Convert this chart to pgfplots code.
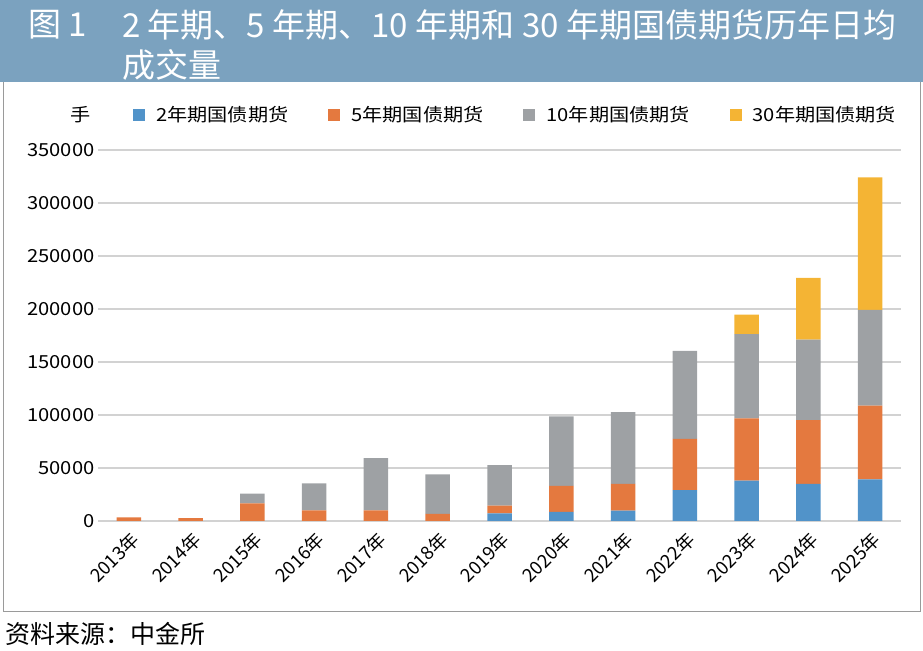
\documentclass[border=0pt]{standalone}
\usepackage{fontspec}
\setmainfont{Noto Sans CJK SC}[FakeStretch=1.12]
\newfontfamily\titlefont{Noto Sans CJK SC}
\usepackage{pgfplots}
\usepackage{pgfplotstable}
\pgfplotsset{compat=1.18}
\definecolor{cblue}{HTML}{5193C9}
\definecolor{corange}{HTML}{E4793F}
\definecolor{cgrey}{HTML}{9EA1A4}
\definecolor{cyellow}{HTML}{F4B434}
\definecolor{band}{HTML}{7BA2BF}
\definecolor{gridc}{HTML}{D2D2D2}
\definecolor{framec}{HTML}{9A9A9A}
\pgfplotstableread{
x a b c d
0 0 3500 0 0
1 0 2700 0 0
2 0 16700 9100 0
3 0 10000 25500 0
4 0 10000 49400 0
5 0 6600 37400 0
6 7300 7200 38300 0
7 8500 24700 65500 0
8 9800 25300 67700 0
9 29100 48400 83100 0
10 38000 58800 79400 18500
11 35100 60100 75900 58300
12 39200 69600 90400 125000
}\datatable
\newcommand{\lbl}{\fontsize{18bp}{20bp}\selectfont}
\newcommand{\xlbl}{\titlefont\fontsize{18.5bp}{20bp}\selectfont}
\begin{document}
\begin{tikzpicture}[x=1bp,y=1bp]
\useasboundingbox (0,0) rectangle (923,651);
\fill[band] (0,569) rectangle (923,651);
\draw[framec, line width=1bp] (3,569) -- (3,39) -- (920,39) -- (920,569);
\node[anchor=west, inner sep=0pt, text=white] at (28,626) {\titlefont\fontsize{33bp}{36bp}\selectfont 图 1};
\node[anchor=west, inner sep=0pt, text=white] at (122,626) {\titlefont\fontsize{33bp}{36bp}\selectfont 2 年期、5 年期、10 年期和 30 年期国债期货历年日均};
\node[anchor=west, inner sep=0pt, text=white] at (122,586) {\titlefont\fontsize{33bp}{36bp}\selectfont 成交量};
\node[anchor=west, inner sep=0pt] at (5,17) {\titlefont\fontsize{25bp}{28bp}\selectfont 资料来源：中金所};
\node[anchor=center, inner sep=0pt] at (81,536) {\lbl 手};
\begin{axis}[
  at={(98bp,130bp)}, anchor=south west,
  scale only axis, width=803bp, height=371bp,
  ybar stacked, bar width=24.5bp,
  xmin=-0.5, xmax=12.5, ymin=0, ymax=350000,
  xtick={0,...,12},
  xticklabels={2013年,2014年,2015年,2016年,2017年,2018年,2019年,2020年,2021年,2022年,2023年,2024年,2025年},
  ytick={0,50000,100000,150000,200000,250000,300000,350000},
  scaled y ticks=false,
  /pgf/number format/assume math mode=true,
  /pgf/number format/fixed,
  /pgf/number format/1000 sep={},
  yticklabel style={font=\lbl},
  xticklabel style={font=\xlbl, xshift=9bp, yshift=-13bp, rotate=45, anchor=east},
  ymajorgrids, grid style={gridc, line width=2.6bp},
  axis line style={draw=none},
  major tick length=0pt,
  legend columns=4,
  legend style={draw=none, fill=none, at={(axis description cs:0.0436,1.094)}, anchor=west, inner sep=0pt, font=\lbl,
    /tikz/every odd column/.append style={column sep=9bp},
    /tikz/every even column/.append style={column sep=38bp}},
  legend image code/.code={\fill[#1, draw=none] (0bp,-6bp) rectangle (12bp,6bp);},
]
\addplot[fill=cblue, draw=none] table[x=x, y=a] {\datatable};
\addplot[fill=corange, draw=none] table[x=x, y=b] {\datatable};
\addplot[fill=cgrey, draw=none] table[x=x, y=c] {\datatable};
\addplot[fill=cyellow, draw=none] table[x=x, y=d] {\datatable};
\legend{2年期国债期货,5年期国债期货,10年期国债期货,30年期国债期货}
\end{axis}
\end{tikzpicture}
\end{document}
